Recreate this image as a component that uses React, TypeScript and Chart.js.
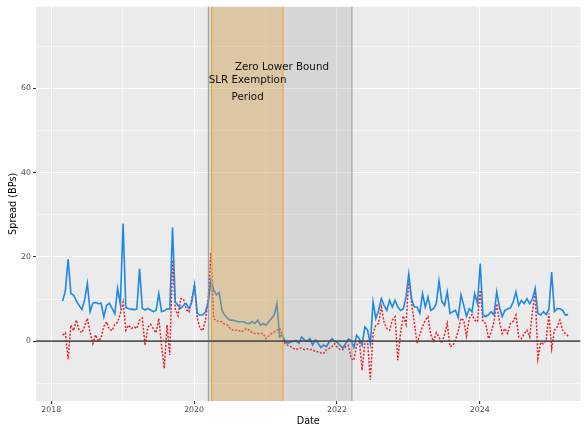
import React, { useEffect, useRef } from 'react';
import { Chart, registerables } from 'chart.js';

Chart.register(...registerables);

// Biweekly observations starting in early March 2018 (decimal years)
const START_YEAR = 2018.16;
const STEP_YEARS = 1 / 26;

const blueSpread = [
  9.5, 12.0, 19.5, 11.3, 10.9, 9.5, 8.5, 7.5, 9.8, 13.7,
  7.0, 9.0, 9.2, 8.9, 9.0, 5.8, 8.5, 9.0, 7.8, 6.5,
  12.5, 8.8, 27.9, 8.0, 7.7, 7.6, 7.5, 7.6, 17.2, 7.8,
  7.4, 7.8, 7.4, 7.0, 7.3, 11.3, 7.0, 7.2, 7.7, 7.6,
  27.0, 9.3, 8.5, 7.8, 8.5, 8.9, 7.7, 9.3, 13.4, 6.6,
  6.2, 6.2, 7.0, 9.3, 14.5, 12.1, 11.0, 11.5, 7.3, 6.2,
  5.4, 5.0, 5.0, 4.8, 4.6, 4.6, 4.6, 4.2, 4.2, 4.6,
  4.2, 5.0, 3.8, 4.2, 3.8, 4.6, 5.4, 6.2, 8.9, 1.0,
  1.5, -0.2, -0.5, -0.2, 0.0, 0.2, -0.5, 1.0, 0.3, 0.0,
  0.6, -0.9, 0.3, -0.5, -1.5, -0.9, -1.3, -0.2, 0.6, 0.0,
  -0.3, -1.0, -1.6, -0.6, 0.5, 0.2, -1.5, 1.4, 0.6, -1.0,
  3.4, 2.6, -0.6, 9.3, 5.4, 7.3, 10.1, 8.5, 7.3, 9.7,
  8.1, 9.7, 8.1, 7.3, 7.7, 10.5, 16.0, 10.0, 8.1, 8.1,
  6.6, 11.3, 8.1, 10.5, 7.3, 7.7, 8.9, 14.3, 9.5, 8.5,
  11.7, 6.6, 7.0, 7.3, 5.6, 11.0, 8.5, 5.9, 7.7, 7.0,
  11.3, 8.9, 18.4, 6.2, 5.8, 6.3, 7.0, 6.2, 11.7, 8.1,
  5.8, 7.3, 7.7, 7.9, 9.3, 11.7, 8.5, 9.7, 8.9, 10.1,
  8.9, 10.0, 12.5, 6.6, 6.2, 7.0, 6.3, 7.6, 16.4, 7.0,
  7.7, 7.7, 7.3, 6.2, 6.3,
];

const redSpread = [
  1.4, 2.0, -4.3, 3.8, 2.5, 5.0, 2.5, 2.0, 3.5, 5.4,
  2.0, -0.6, 1.5, 0.0, 0.8, 3.5, 4.6, 2.8, 2.5, 4.0,
  4.5, 6.5, 9.3, 2.6, 3.8, 3.0, 3.4, 3.0, 5.0, 5.5,
  -1.0, 3.3, 4.0, 3.0, 2.0, 5.4, -1.0, -6.5, 3.8, -3.3,
  19.2, 7.7, 6.0, 10.1, 10.0, 7.5, 6.9, 10.0, 13.3, 5.5,
  3.0, 2.5, 5.0, 10.0, 21.0, 5.4, 4.8, 4.7, 4.6, 4.0,
  3.8, 3.0, 2.6, 2.6, 2.6, 2.2, 2.6, 3.0, 2.6, 2.0,
  1.8, 1.8, 1.8, 1.8, 0.6, 1.2, 1.8, 2.2, 2.6, 3.0,
  1.4, -0.6, -1.0, -1.3, -1.7, -2.0, -1.7, -1.7, -2.0, -1.8,
  -2.0, -2.0, -2.5, -2.5, -2.8, -2.9, -2.0, -1.7, -1.3, -0.6,
  -1.5, -2.0, -2.0, -1.3, -1.0, -4.1, -4.5, -1.0, 0.2, -6.9,
  -0.5, 0.0, -9.2, 1.8, 3.8, 4.2, 8.1, 4.5, 3.0, 2.6,
  5.0, 5.8, -4.5, 2.0, 6.0, 4.0, 14.8, 9.0, 4.5, -0.5,
  1.5, 3.5, 5.0, 5.8, 1.5, 0.0, 2.0, 1.0, -0.5, 1.5,
  4.2, -1.3, -1.0, 0.2, 2.5, 5.4, 5.0, 1.2, 5.4, 6.3,
  5.0, 4.6, 12.1, 4.6, 4.2, 0.6, 2.2, 4.6, 8.9, 4.6,
  1.8, 3.0, 1.8, 4.2, 4.7, 6.2, 1.0, 0.6, 1.8, 2.6,
  1.0, 7.0, 11.7, -4.1, -0.3, -0.6, 0.2, 6.6, -1.7, 2.6,
  3.4, 5.0, 2.6, 1.8, 1.2,
];

const dates = blueSpread.map((_, i) => START_YEAR + i * STEP_YEARS);

const zeroLowerBound = [2020.2, 2022.21];
const slrExemption = [2020.245, 2021.245];

const xTickYears = [2018, 2019, 2020, 2021, 2022, 2023, 2024, 2025];
const xLabelYears = [2018, 2020, 2022, 2024];
const yTickValues = [-10, 0, 10, 20, 30, 40, 50, 60, 70];
const yLabelValues = [0, 20, 40, 60];

const X_MIN = 2017.787;
const X_MAX = 2025.41;
const Y_MIN = -14.2;
const Y_MAX = 79.4;

const FONT = '"DejaVu Sans", sans-serif';

const overlayPlugin = {
  id: 'ggOverlay',
  beforeDraw(chart: any) {
    const { ctx, chartArea: a } = chart;
    ctx.save();
    ctx.fillStyle = '#FFFFFF';
    ctx.fillRect(0, 0, chart.width, chart.height);
    ctx.fillStyle = '#EBEBEB';
    ctx.fillRect(a.left, a.top, a.right - a.left, a.bottom - a.top);
    ctx.restore();
  },
  afterDatasetsDraw(chart: any) {
    const { ctx, chartArea: a, scales } = chart;
    const x = scales.x;
    const y = scales.y;
    ctx.save();
    ctx.beginPath();
    ctx.rect(a.left, a.top, a.right - a.left, a.bottom - a.top);
    ctx.clip();

    // Zero lower bound shading
    const z0 = x.getPixelForValue(zeroLowerBound[0]);
    const z1 = x.getPixelForValue(zeroLowerBound[1]);
    ctx.fillStyle = 'rgba(128,128,128,0.2)';
    ctx.fillRect(z0, a.top, z1 - z0, a.bottom - a.top);
    ctx.strokeStyle = 'rgba(140,140,140,0.8)';
    ctx.lineWidth = 1.1;
    ctx.strokeRect(z0, a.top - 2, z1 - z0, a.bottom - a.top + 4);

    // SLR exemption shading
    const s0 = x.getPixelForValue(slrExemption[0]);
    const s1 = x.getPixelForValue(slrExemption[1]);
    ctx.fillStyle = 'rgba(231,164,51,0.3)';
    ctx.fillRect(s0, a.top, s1 - s0, a.bottom - a.top);
    ctx.strokeStyle = '#E9A53A';
    ctx.lineWidth = 1.1;
    ctx.strokeRect(s0, a.top - 2, s1 - s0, a.bottom - a.top + 4);

    // zero line
    const y0 = y.getPixelForValue(0);
    ctx.strokeStyle = 'rgba(70,70,70,0.9)';
    ctx.lineWidth = 1.7;
    ctx.beginPath();
    ctx.moveTo(a.left, y0);
    ctx.lineTo(a.right, y0);
    ctx.stroke();

    // annotations
    ctx.fillStyle = '#111111';
    ctx.font = `10.3px ${FONT}`;
    ctx.textAlign = 'center';
    ctx.textBaseline = 'middle';
    ctx.fillText('Zero Lower Bound', x.getPixelForValue(2021.23), y.getPixelForValue(65));
    const sx = x.getPixelForValue(2020.75);
    const sy = y.getPixelForValue(60);
    ctx.fillText('SLR Exemption', sx, sy - 8);
    ctx.fillText('Period', sx, sy + 8.5);
    ctx.restore();
  },
  afterDraw(chart: any) {
    const { ctx, chartArea: a } = chart;
    ctx.save();
    ctx.fillStyle = '#000000';
    ctx.font = `9.7px ${FONT}`;
    ctx.textAlign = 'center';
    ctx.textBaseline = 'middle';
    ctx.fillText('Date', (a.left + a.right) / 2, 421);
    ctx.translate(13, (a.top + a.bottom) / 2);
    ctx.rotate(-Math.PI / 2);
    ctx.fillText('Spread (BPs)', 0, 0);
    ctx.restore();
  },
};

export default function App() {
  const canvasRef = useRef<HTMLCanvasElement | null>(null);

  useEffect(() => {
    if (!canvasRef.current) return;
    const isXMajor = (v: number) => xLabelYears.includes(v);
    const isYMajor = (v: number) => yLabelValues.includes(v);
    const chart = new Chart(canvasRef.current, {
      type: 'line',
      data: {
        datasets: [
          {
            label: 'Spread A',
            data: dates.map((d, i) => ({ x: d, y: blueSpread[i] })),
            borderColor: '#1E88E5',
            borderWidth: 1.6,
            pointRadius: 0,
            tension: 0,
          },
          {
            label: 'Spread B',
            data: dates.map((d, i) => ({ x: d, y: redSpread[i] })),
            borderColor: '#E8222A',
            borderWidth: 1.5,
            borderDash: [2, 1.6],
            pointRadius: 0,
            tension: 0,
          },
        ],
      },
      options: {
        responsive: false,
        animation: false,
        events: [],
        layout: { padding: { left: 0, right: 5.5, top: 6, bottom: 0 } },
        plugins: { legend: { display: false }, tooltip: { enabled: false } },
        scales: {
          x: {
            type: 'linear',
            min: X_MIN,
            max: X_MAX,
            afterBuildTicks: (scale: any) => {
              scale.ticks = xTickYears.map((v) => ({ value: v }));
            },
            afterFit: (scale: any) => {
              scale.height = 25;
            },
            border: { display: false },
            grid: {
              color: '#FFFFFF',
              lineWidth: (c: any) => (c.tick && isXMajor(c.tick.value) ? 1.1 : 0.55),
              tickColor: (c: any) => (c.tick && isXMajor(c.tick.value) ? '#333333' : 'rgba(0,0,0,0)'),
              tickLength: 3,
              tickWidth: 1.1,
            },
            ticks: {
              autoSkip: false,
              maxRotation: 0,
              padding: 1.5,
              color: '#4D4D4D',
              font: { family: FONT, size: 7.8 },
              callback: (v: any) => (isXMajor(Number(v)) ? String(v) : ''),
            },
          },
          y: {
            type: 'linear',
            min: Y_MIN,
            max: Y_MAX,
            afterBuildTicks: (scale: any) => {
              scale.ticks = yTickValues.map((v) => ({ value: v }));
            },
            afterFit: (scale: any) => {
              scale.width = 36;
            },
            border: { display: false },
            grid: {
              color: '#FFFFFF',
              lineWidth: (c: any) => (c.tick && isYMajor(c.tick.value) ? 1.1 : 0.55),
              tickColor: (c: any) => (c.tick && isYMajor(c.tick.value) ? '#333333' : 'rgba(0,0,0,0)'),
              tickLength: 3,
              tickWidth: 1.1,
            },
            ticks: {
              autoSkip: false,
              padding: 2,
              color: '#4D4D4D',
              font: { family: FONT, size: 7.8 },
              callback: (v: any) => (isYMajor(Number(v)) ? String(v) : ''),
            },
          },
        },
      },
      plugins: [overlayPlugin],
    });
    return () => chart.destroy();
  }, []);

  return (
    <div style={{ position: 'fixed', left: 0, top: 0, width: 586, height: 426 }}>
      <canvas ref={canvasRef} width={586} height={426} />
    </div>
  );
}
